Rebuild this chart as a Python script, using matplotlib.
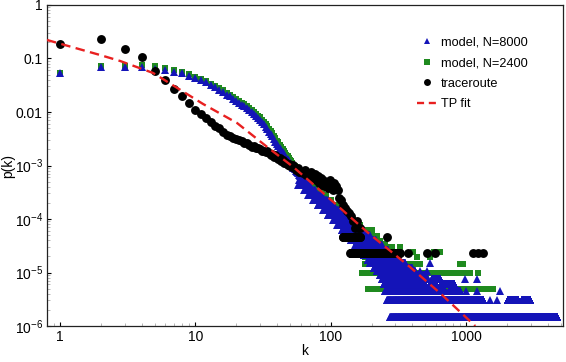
import numpy as np
import matplotlib
matplotlib.use("Agg")
import matplotlib.pyplot as plt
from matplotlib.ticker import FixedLocator, FixedFormatter, LogLocator, NullFormatter

plt.rcParams["font.family"] = ["Liberation Sans", "DejaVu Sans"]

# ---------------------------
# DATOS
# ---------------------------

# modelo N=8000, zona suave k=1..60
blue_k = list(range(1, 61))
blue_p = [0.053, 0.069, 0.070, 0.068, 0.065, 0.061, 0.057, 0.053, 0.048, 0.043,
          0.039, 0.036, 0.032, 0.029, 0.026, 0.024, 0.021, 0.0195, 0.0175, 0.0158,
          0.0146, 0.0138, 0.0128, 0.0118, 0.0110, 0.0100, 0.0091, 0.0084, 0.0077, 0.0071,
          0.0065, 0.0059, 0.0053, 0.0048, 0.0043, 0.0039, 0.0035, 0.0031, 0.0028, 0.0025,
          0.0023, 0.0021, 0.00193, 0.00178, 0.00164, 0.00152, 0.00141, 0.00131, 0.00122, 0.00113,
          0.00105, 0.00098, 0.00091, 0.00085, 0.00080, 0.00075, 0.00071, 0.00067, 0.00063, 0.00060]

# cola ruidosa: (p, k desde, k hasta)
blue_runs = [
    (5.36e-4, 58, 66), (4.32e-4, 57, 70), (3.48e-4, 63, 77), (2.81e-4, 68, 86),
    (2.26e-4, 74, 95), (1.83e-4, 80, 105), (1.47e-4, 88, 116), (1.19e-4, 95, 129),
    (9.6e-5, 104, 143), (7.7e-5, 112, 158), (6.2e-5, 121, 175), (5.0e-5, 131, 194),
    (4.05e-5, 141, 215), (3.26e-5, 152, 239), (2.63e-5, 165, 265), (2.12e-5, 175, 293),
    (1.71e-5, 187, 326),
    (1.5e-5, 194, 355), (1.5e-5, 543, 543),
    (1.2e-5, 208, 400),
    (1.05e-5, 218, 420), (1.05e-5, 458, 458), (1.05e-5, 515, 515),
    (9.0e-6, 232, 380), (9.0e-6, 400, 450), (9.0e-6, 480, 500),
    (7.5e-6, 240, 420), (7.5e-6, 450, 520), (7.5e-6, 560, 644), (7.5e-6, 980, 980), (7.5e-6, 1200, 1200),
    (6.0e-6, 246, 500), (6.0e-6, 540, 600), (6.0e-6, 650, 820),
    (4.5e-6, 252, 700), (4.5e-6, 750, 904), (4.5e-6, 1000, 1000), (4.5e-6, 1200, 1200), (4.5e-6, 1790, 1790),
    (3.0e-6, 261, 1340), (3.0e-6, 1507, 1507), (3.0e-6, 1700, 1700),
    (3.0e-6, 2030, 2220), (3.0e-6, 2300, 2420), (3.0e-6, 2600, 2977),
    (1.5e-6, 275, 4710),
]

# modelo N=2400
green_k = list(range(1, 61))
green_p = [0.053, 0.071, 0.073, 0.076, 0.073, 0.066, 0.061, 0.056, 0.051, 0.046,
           0.042, 0.038, 0.034, 0.031, 0.028, 0.026, 0.023, 0.021, 0.019, 0.0172,
           0.0160, 0.0150, 0.0140, 0.0130, 0.0121, 0.0111, 0.0101, 0.0093, 0.0086, 0.0079,
           0.0072, 0.0066, 0.0060, 0.0054, 0.0049, 0.0044, 0.0040, 0.0036, 0.0032, 0.0029,
           0.0027, 0.0024, 0.0022, 0.0020, 0.00185, 0.00172, 0.0016, 0.00148, 0.00138, 0.00128,
           0.00119, 0.00111, 0.00103, 0.00096, 0.0009, 0.00084, 0.00079, 0.00074, 0.0007, 0.00066]

green_runs = [
    (5.36e-4, 59, 75), (4.32e-4, 63, 80), (3.48e-4, 67, 86), (2.81e-4, 72, 92),
    (2.26e-4, 77, 100), (1.83e-4, 83, 109), (1.47e-4, 91, 120), (1.19e-4, 99, 132),
    (9.6e-5, 108, 146), (7.7e-5, 117, 165), (6.2e-5, 128, 202),
    (4.9e-5, 139, 220), (3.92e-5, 149, 232), (3.43e-5, 154, 252),
    (2.94e-5, 160, 283), (2.94e-5, 326, 326),
    (2.45e-5, 170, 300), (2.45e-5, 405, 405), (2.45e-5, 575, 644),
    (1.96e-5, 180, 275), (1.96e-5, 435, 435), (1.96e-5, 543, 543),
    (1.47e-5, 180, 275), (1.47e-5, 370, 458), (1.47e-5, 904, 950),
    (9.8e-6, 170, 1070), (9.8e-6, 1230, 1230),
    (4.9e-6, 190, 1580),
]

# traceroute
black_k = [1, 2, 3, 4, 5, 6, 7, 8, 9, 10,
           11, 12, 13, 14, 15, 16, 17, 18, 19, 20,
           21, 22, 23, 24, 25, 26, 27, 28, 29, 30,
           31, 32, 33, 34, 35, 36, 37, 38, 39, 40,
           41, 42, 43, 44, 45, 46, 47, 48, 49, 50,
           52, 53, 54, 55, 57, 58, 60, 62, 64, 66,
           68, 70, 72, 74, 76, 78, 80, 82, 84, 86,
           88, 90, 92, 95, 98, 100, 103, 106, 110, 113,
           116, 120, 124, 128, 132, 136, 140, 145, 150, 155,
           160, 165]
black_p = [0.187, 0.231, 0.151, 0.107, 0.059, 0.040, 0.0265, 0.0203, 0.0145, 0.0109,
           0.0092, 0.0077, 0.0065, 0.0055, 0.0050, 0.0042, 0.0037, 0.0036, 0.0033, 0.0031,
           0.0030, 0.0029, 0.0026, 0.0026, 0.0024, 0.0022, 0.0023, 0.0021, 0.0021, 0.0020,
           0.0019, 0.0019, 0.0018, 0.00187, 0.0017, 0.0016, 0.00164, 0.00144, 0.00157, 0.00144,
           0.00132, 0.00138, 0.00121, 0.00127, 0.00111, 0.00116, 0.00111, 0.00102, 0.00107, 0.00098,
           0.00094, 0.00102, 0.0009, 0.00082, 0.0009, 0.00076, 0.00076, 0.00072, 0.00082, 0.00066,
           0.00072, 0.00064, 0.00076, 0.00058, 0.00069, 0.00054, 0.00064, 0.00047, 0.00058, 0.00043,
           0.00054, 0.00041, 0.00049, 0.00038, 0.00054, 0.00047, 0.00035, 0.00047, 0.00041, 0.00035,
           0.00025, 0.00023, 0.00018, 0.00016, 0.00014, 0.00013, 0.000115, 0.000092, 0.000069, 0.000092,
           0.000069, 0.000069]

black_runs = [
    (4.6e-5, 123, 165), (4.6e-5, 262, 262),
    (2.3e-5, 139, 320), (2.3e-5, 326, 326), (2.3e-5, 373, 373), (2.3e-5, 516, 516),
    (2.3e-5, 593, 593), (2.3e-5, 1125, 1125), (2.3e-5, 1220, 1220), (2.3e-5, 1330, 1330),
]

# ajuste TP
fit_k = [0.80, 1.98, 2.78, 4.87, 11.4, 20.3, 33.9, 52.8, 87.9, 186, 386, 644, 1168]
fit_p = [0.222, 0.116, 0.0898, 0.0536, 0.0141, 0.00623, 0.00222, 9.4e-4, 3.06e-4,
         5.7e-5, 1.26e-5, 4.1e-6, 1.0e-6]

y_ticks = [1, 0.1, 0.01, 1e-3, 1e-4, 1e-5, 1e-6]
y_labels = ["1", "0.1", "0.01", r"$\mathregular{10^{-3}}$", r"$\mathregular{10^{-4}}$",
            r"$\mathregular{10^{-5}}$", r"$\mathregular{10^{-6}}$"]
x_ticks = [1, 10, 100, 1000]
x_labels = ["1", "10", "100", "1000"]

AZUL = "#1414b8"
VERDE = "#1f8a1f"
ROJO = "#e82020"


def expandir(curva_k, curva_p, runs):
    ks = [np.asarray(curva_k, dtype=float)]
    ps = [np.asarray(curva_p, dtype=float)]
    for p, k0, k1 in runs:
        k = np.arange(k0, k1 + 1)
        ks.append(k.astype(float))
        ps.append(np.full(len(k), p))
    return np.concatenate(ks), np.concatenate(ps)


bk, bp = expandir(blue_k, blue_p, blue_runs)
gk, gp = expandir(green_k, green_p, green_runs)
nk, npp = expandir(black_k, black_p, black_runs)

# ---------------------------
# GRAFICO
# ---------------------------

fig = plt.figure(figsize=(5.66, 3.62), dpi=100)
ax = fig.add_axes([0.083, 0.0994, 0.9117, 0.8868])

ax.plot(gk, gp, "s", color=VERDE, ms=5.0, mew=0, zorder=2)
ax.plot(bk, bp, "^", color=AZUL, ms=5.6, mew=0, zorder=3)
ax.plot(nk, npp, "o", color="black", ms=6.4, mew=0, zorder=4)
ax.plot(fit_k, fit_p, "-", color=ROJO, lw=1.7, dashes=(4, 2.3), zorder=5)

ax.set_xscale("log")
ax.set_yscale("log")
ax.set_xlim(0.8, 5200)
ax.set_ylim(1e-6, 1)

ax.xaxis.set_major_locator(FixedLocator(x_ticks))
ax.xaxis.set_major_formatter(FixedFormatter(x_labels))
ax.yaxis.set_major_locator(FixedLocator(y_ticks))
ax.yaxis.set_major_formatter(FixedFormatter(y_labels))
ax.xaxis.set_minor_locator(LogLocator(base=10, subs=np.arange(2, 10)))
ax.yaxis.set_minor_locator(LogLocator(base=10, subs=np.arange(2, 10)))
ax.xaxis.set_minor_formatter(NullFormatter())
ax.yaxis.set_minor_formatter(NullFormatter())
ax.tick_params(which="major", direction="in", length=3, width=0.8, labelsize=10, pad=3)
ax.tick_params(which="minor", direction="in", length=2, width=0.6, color="#aaaaaa")

for s in ax.spines.values():
    s.set_linewidth(0.9)
    s.set_color("#222222")

ax.set_xlabel("k", fontsize=10, labelpad=0)
ax.set_ylabel("p(k)", fontsize=10, labelpad=0)
ax.yaxis.set_label_coords(-0.062, 0.5)

h1 = plt.Line2D([], [], marker="^", ls="none", color=AZUL, ms=5, mew=0)
h2 = plt.Line2D([], [], marker="s", ls="none", color=VERDE, ms=4.5, mew=0)
h3 = plt.Line2D([], [], marker="o", ls="none", color="black", ms=5, mew=0)
h4 = plt.Line2D([], [], color=ROJO, lw=1.7, dashes=(3, 2))
ax.legend([h1, h2, h3, h4], ["model, N=8000", "model, N=2400", "traceroute", "TP fit"],
          loc="upper left", bbox_to_anchor=(0.705, 0.922), frameon=False, fontsize=9.2,
          handlelength=1.6, handletextpad=0.25, labelspacing=0.68, borderpad=0, numpoints=1)

fig.savefig("out.png", dpi=100)
